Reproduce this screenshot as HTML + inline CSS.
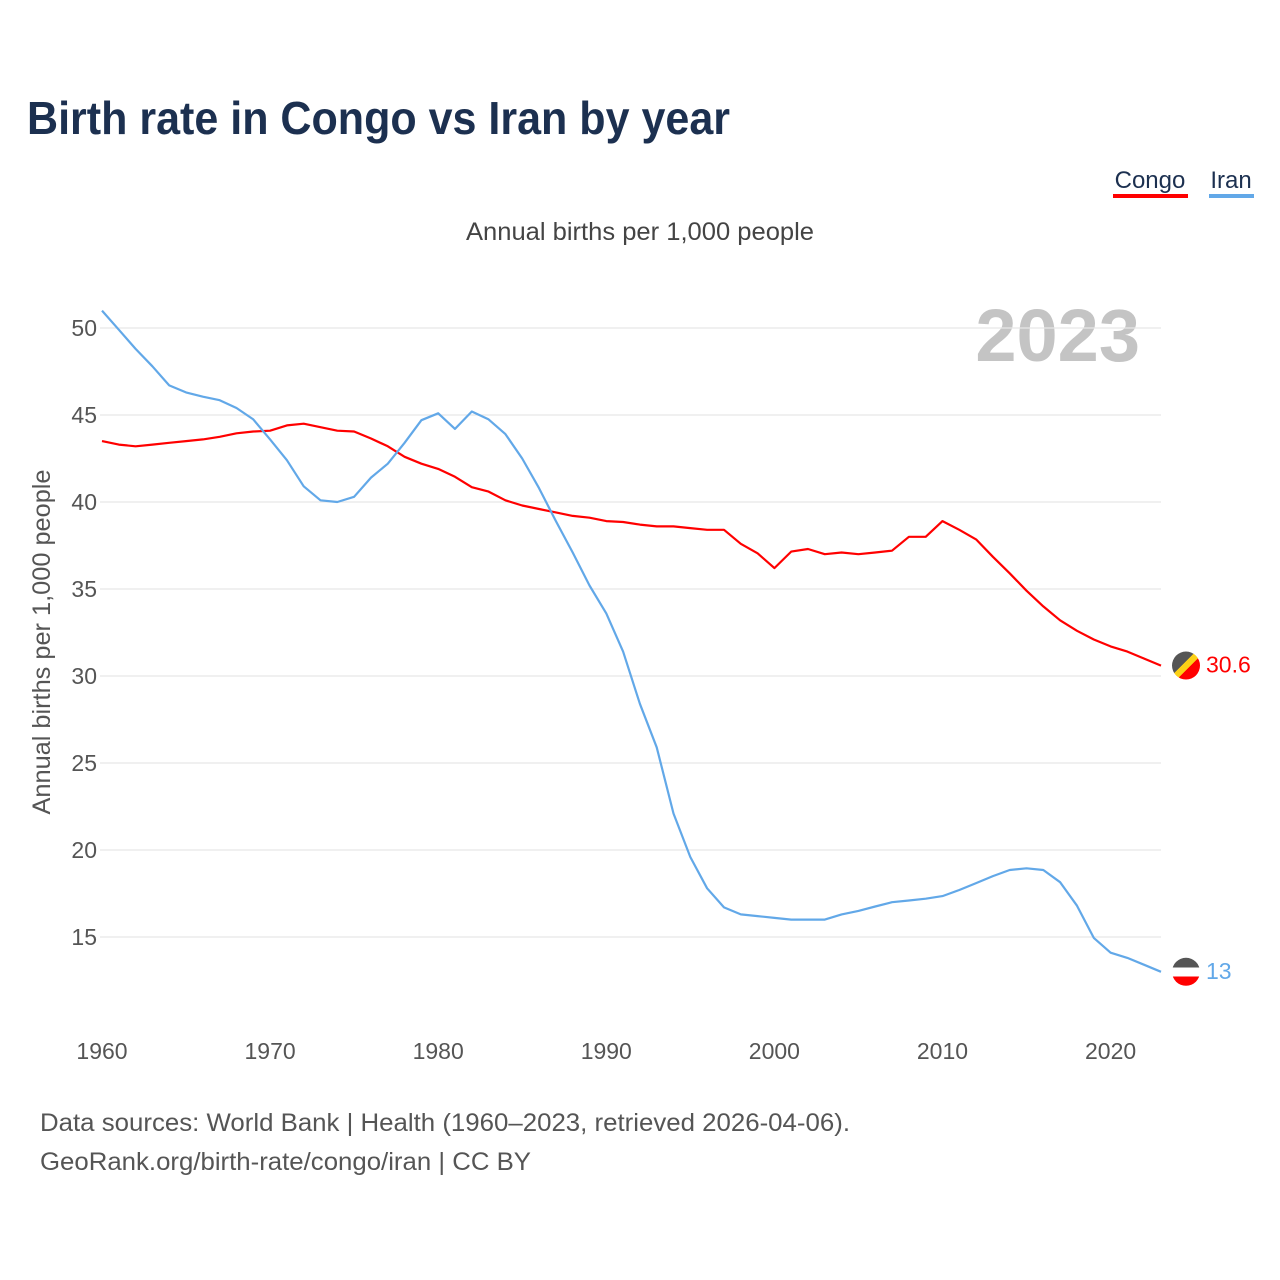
<!DOCTYPE html>
<html><head><meta charset="utf-8">
<style>
body{margin:0;background:#fff;font-family:"Liberation Sans",sans-serif;}
#wrap{position:relative;width:1280px;height:1280px;overflow:hidden;}
</style></head>
<body>
<div id="wrap">
<svg id="chart" width="1280" height="1280" viewBox="0 0 1280 1280">
  <text x="27" y="134" font-size="46" font-weight="bold" fill="#1c3050" textLength="703" lengthAdjust="spacingAndGlyphs">Birth rate in Congo vs Iran by year</text>
  <g>
    <text x="1150" y="188" font-size="24" fill="#1c3050" text-anchor="middle">Congo</text>
    <rect x="1113" y="194" width="75" height="4" fill="#ff0000"/>
  </g>
  <g>
    <text x="1231" y="188" font-size="24" fill="#1c3050" text-anchor="middle">Iran</text>
    <rect x="1209" y="194" width="45" height="4" fill="#62a8e8"/>
  </g>
  <text x="640" y="240" font-size="25" fill="#444" text-anchor="middle" textLength="348" lengthAdjust="spacingAndGlyphs">Annual births per 1,000 people</text>
  <text x="1140" y="361" font-size="74" font-weight="bold" fill="#c4c4c4" text-anchor="end">2023</text>
  <text transform="translate(50,642) rotate(-90)" font-size="25" fill="#555" text-anchor="middle" textLength="345" lengthAdjust="spacingAndGlyphs">Annual births per 1,000 people</text>
  <g id="grid"></g>
  <g id="yticks"></g>
  <g id="xticks"></g>
  <g id="lines"></g>
  <g id="ends"></g>
  <text x="40" y="1131" font-size="25" fill="#555" textLength="810" lengthAdjust="spacingAndGlyphs">Data sources: World Bank | Health (1960–2023, retrieved 2026-04-06).</text>
  <text x="40" y="1170" font-size="25" fill="#555" textLength="491" lengthAdjust="spacingAndGlyphs">GeoRank.org/birth-rate/congo/iran | CC BY</text>
</svg>
</div>
<script>
const years = [];
for (let y = 1960; y <= 2023; y++) years.push(y);
const congo = [43.5,43.3,43.2,43.3,43.4,43.5,43.6,43.75,43.95,44.05,44.1,44.4,44.5,44.3,44.1,44.05,43.65,43.2,42.6,42.2,41.9,41.45,40.85,40.6,40.1,39.8,39.6,39.4,39.2,39.1,38.9,38.85,38.7,38.6,38.6,38.5,38.4,38.4,37.6,37.05,36.2,37.15,37.3,37.0,37.1,37.0,37.1,37.2,38.0,38.0,38.9,38.4,37.85,36.85,35.9,34.9,34.0,33.2,32.6,32.1,31.7,31.4,31.0,30.6];
const iran = [51.0,49.9,48.8,47.8,46.7,46.3,46.05,45.85,45.4,44.75,43.6,42.4,40.9,40.1,40.0,40.3,41.4,42.2,43.4,44.7,45.1,44.2,45.2,44.75,43.9,42.5,40.8,38.9,37.1,35.2,33.6,31.4,28.4,25.9,22.1,19.6,17.8,16.7,16.3,16.2,16.1,16.0,16.0,16.0,16.3,16.5,16.75,17.0,17.1,17.2,17.35,17.7,18.1,18.5,18.85,18.95,18.85,18.15,16.8,14.95,14.1,13.8,13.4,13.0];
const yTicks = [15,20,25,30,35,40,45,50];
const xTicks = [1960,1970,1980,1990,2000,2010,2020];
const endLabels = ["30.6","13"];

const NS = "http://www.w3.org/2000/svg";
const xs = yr => 102 + (yr - 1960) * (1059 / 63);
const ys = v => 328 + (50 - v) * 17.4;
function mk(tag, attrs, parent) {
  const e = document.createElementNS(NS, tag);
  for (const k in attrs) e.setAttribute(k, attrs[k]);
  parent.appendChild(e);
  return e;
}
const grid = document.getElementById('grid');
const yt = document.getElementById('yticks');
yTicks.forEach(v => {
  const l = mk('line', {x1: 100, x2: 1161, y1: ys(v), y2: ys(v), stroke: '#e6e6e6', 'stroke-width': 1.3}, grid);
  
  
  const t = mk('text', {x: 97, y: ys(v) + 8, 'font-size': 23, fill: '#555', 'text-anchor': 'end'}, yt);
  t.textContent = v;
  
  
});
const xt = document.getElementById('xticks');
xTicks.forEach(y => {
  const t = mk('text', {x: xs(y), y: 1059, 'font-size': 23, fill: '#555', 'text-anchor': 'middle'}, xt);
  t.textContent = y;
  
  
});
const lines = document.getElementById('lines');
function line(data, color, name) {
  const d = data.map((v, i) => (i ? 'L' : 'M') + xs(years[i]).toFixed(1) + ' ' + ys(v).toFixed(1)).join(' ');
  const p = mk('path', {d: d, fill: 'none', stroke: color, 'stroke-width': 2.2, 'stroke-linejoin': 'round'}, lines);
  
  
}
line(congo, '#ff0000', 'congo-line');
line(iran, '#62a8e8', 'iran-line');

const ends = document.getElementById('ends');
const defs = mk('defs', {}, ends);
const cg = mk('linearGradient', {id: 'cg', x1: 0, y1: 0, x2: 1, y2: 1}, defs);
[['0','#555'],['0.42','#555'],['0.42','#fcd116'],['0.58','#fcd116'],['0.58','#f00'],['1','#f00']].forEach(s => mk('stop', {offset: s[0], 'stop-color': s[1]}, cg));
const ig = mk('linearGradient', {id: 'ig', x1: 0, y1: 0, x2: 0, y2: 1}, defs);
[['0','#555'],['0.34','#555'],['0.34','#fff'],['0.66','#fff'],['0.66','#f00'],['1','#f00']].forEach(s => mk('stop', {offset: s[0], 'stop-color': s[1]}, ig));
const last = years.length - 1;
[[congo, 'cg', '#ff0000', 'congo'], [iran, 'ig', '#62a8e8', 'iran']].forEach((s, k) => {
  const cy = ys(s[0][last]);
  const c = mk('circle', {cx: 1186, cy: cy, r: 14, fill: 'url(#' + s[1] + ')'}, ends);
  
  
  const t = mk('text', {x: 1206, y: cy + 7, 'font-size': 23, fill: s[2]}, ends);
  t.textContent = endLabels[k];
  
  
});
</script>
</body></html>
